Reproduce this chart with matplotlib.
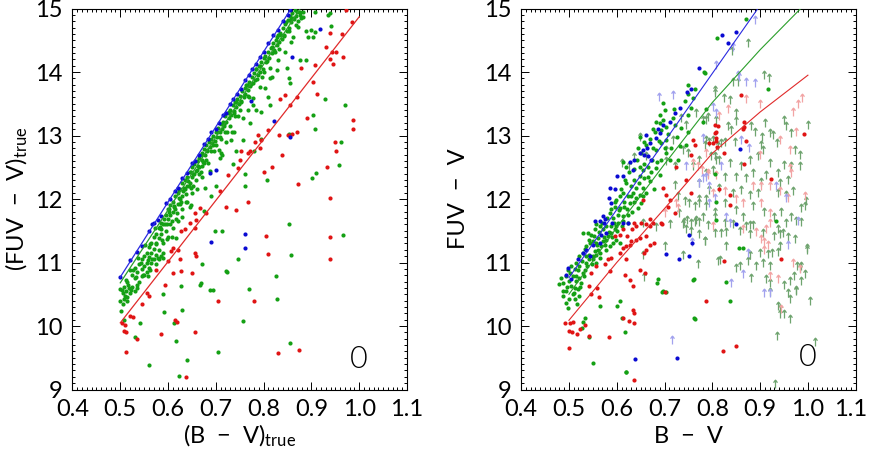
import numpy as np
import matplotlib
matplotlib.use("Agg")
import matplotlib.pyplot as plt
from matplotlib.path import Path
from matplotlib.ticker import MultipleLocator
from matplotlib.transforms import ScaledTranslation
from matplotlib import font_manager as fm

# ---------------- LEFT PANEL DATA ----------------
left_blue = [
    (0.500,10.77),(0.520,11.04),(0.535,11.16),(0.545,11.26),(0.560,11.49),(0.566,11.60),(0.570,11.63),
    (0.578,11.67),(0.585,11.73),(0.596,11.93),(0.605,12.00),(0.614,12.13),(0.620,12.17),(0.630,12.33),
    (0.640,12.41),(0.650,12.57),(0.656,12.60),(0.665,12.70),(0.676,12.86),(0.684,12.94),(0.690,13.05),
    (0.700,13.11),(0.706,13.19),(0.715,13.33),(0.721,13.36),(0.730,13.49),(0.736,13.57),(0.745,13.66),
    (0.752,13.74),(0.760,13.87),(0.770,13.95),(0.776,14.04),(0.785,14.13),(0.792,14.23),(0.800,14.31),
    (0.810,14.45),(0.820,14.58),(0.830,14.66),(0.840,14.80),(0.850,14.90),(0.856,14.97),
    (0.918,14.68),(0.860,14.24),(0.773,13.54),(0.822,13.23),(0.856,12.97),(0.690,11.32),(0.760,11.45),
    (0.760,11.23),(0.687,12.41),(0.701,12.46),
]
left_green = [
    (0.500,10.58),(0.500,10.40),(0.502,10.23),(0.505,10.52),(0.508,10.62),(0.510,10.48),(0.512,10.55),
    (0.515,10.45),(0.518,10.60),(0.520,10.52),(0.515,10.70),(0.525,10.80),(0.520,10.88),(0.530,10.92),
    (0.530,10.75),(0.535,10.85),(0.540,10.98),(0.540,10.70),(0.545,11.05),(0.545,10.90),(0.550,11.10),
    (0.550,10.95),(0.550,10.80),(0.555,11.15),(0.555,11.00),(0.560,11.25),(0.560,11.08),(0.560,10.92),
    (0.565,11.30),(0.565,11.15),(0.570,11.40),(0.570,11.22),(0.570,11.05),(0.575,11.45),(0.575,11.30),
    (0.575,11.12),(0.580,11.55),(0.580,11.38),(0.580,11.20),(0.585,11.62),(0.585,11.45),(0.585,11.10),
    (0.590,11.60),(0.590,11.30),(0.595,11.75),(0.595,11.50),(0.600,11.85),(0.600,11.68),(0.600,11.40),
    (0.605,11.90),(0.605,11.75),(0.610,11.95),(0.610,11.80),(0.610,11.55),(0.615,12.05),(0.615,11.85),
    (0.620,12.10),(0.620,11.92),(0.620,11.65),(0.625,12.15),(0.625,12.00),(0.630,12.25),(0.630,12.05),
    (0.630,11.85),(0.635,12.30),(0.635,12.15),(0.640,12.35),(0.640,12.20),(0.640,11.95),(0.645,12.42),
    (0.645,12.25),(0.650,12.50),(0.650,12.35),(0.650,12.10),(0.655,12.55),(0.655,12.40),(0.660,12.60),
    (0.660,12.45),(0.665,12.65),(0.665,12.50),(0.670,12.72),(0.670,12.52),(0.675,12.78),(0.675,12.57),
    (0.680,12.85),(0.680,12.62),(0.685,12.90),(0.690,12.95),(0.690,12.75),(0.695,13.00),(0.700,13.05),
    (0.700,12.85),(0.705,13.12),(0.710,13.18),(0.710,12.95),(0.715,13.22),(0.720,13.30),(0.720,13.05),
    (0.725,13.35),(0.730,13.40),(0.730,13.15),(0.735,13.48),(0.740,13.52),(0.740,13.30),(0.745,13.58),
    (0.750,13.62),(0.750,13.40),(0.755,13.70),(0.760,13.75),(0.765,13.80),(0.770,13.85),(0.770,13.60),
    (0.775,13.92),(0.780,13.98),(0.785,14.05),(0.790,14.10),(0.795,14.15),(0.800,14.22),(0.800,14.00),
    (0.810,14.32),(0.815,14.38),(0.820,14.45),(0.825,14.50),(0.830,14.58),(0.835,14.62),(0.840,14.70),
    (0.845,14.75),(0.850,14.82),(0.855,14.88),(0.860,14.93),(0.865,14.98),(0.870,14.95),(0.875,14.90),
    (0.585,11.52),(0.592,11.68),(0.598,11.60),(0.603,11.80),(0.608,11.66),(0.612,11.88),(0.618,11.78),
    (0.622,12.02),(0.628,11.95),(0.632,12.12),(0.638,12.08),(0.642,12.28),(0.648,12.18),(0.652,12.40),
    (0.658,12.30),(0.662,12.52),(0.668,12.42),(0.672,12.62),(0.678,12.70),(0.682,12.75),(0.688,12.82),
    (0.692,12.88),(0.698,12.92),(0.702,12.98),(0.708,13.05),(0.712,13.10),(0.718,13.15),(0.722,13.22),
    (0.728,13.28),(0.732,13.32),(0.738,13.38),(0.742,13.45),(0.748,13.50),(0.752,13.55),(0.758,13.60),
    (0.762,13.65),(0.768,13.72),(0.772,13.78),(0.778,13.82),(0.782,13.88),(0.788,13.95),(0.792,14.00),
    (0.798,14.05),(0.805,14.15),(0.812,14.22),(0.818,14.30),(0.822,14.35),(0.828,14.42),(0.832,14.48),
    (0.838,14.52),(0.842,14.58),(0.848,14.65),(0.852,14.70),(0.858,14.78),(0.862,14.85),(0.868,14.88),
    (0.872,14.80),(0.878,14.85),(0.882,14.95),(0.525,10.62),(0.535,10.65),(0.545,10.78),(0.555,10.85),
    (0.565,11.00),(0.575,10.98),(0.582,11.05),(0.590,11.15),(0.505,10.35),(0.508,10.10),(0.530,10.55),
    (0.562,10.88),
    (0.503,10.56),(0.507,10.43),(0.511,10.72),(0.514,10.39),(0.517,10.64),(0.523,10.57),(0.527,10.88),
    (0.532,10.77),(0.536,10.60),(0.538,11.07),(0.543,10.99),(0.547,10.81),(0.552,11.27),(0.557,11.04),
    (0.559,10.79),(0.563,11.29),(0.567,11.06),(0.572,11.54),(0.574,11.29),(0.578,11.07),(0.583,11.56),
    (0.587,11.36),(0.589,11.07),(0.593,11.60),(0.597,11.37),(0.602,11.85),(0.604,11.61),(0.609,11.40),
    (0.613,11.89),(0.617,11.68),(0.623,12.14),(0.626,11.92),(0.629,11.72),(0.633,12.18),(0.637,11.96),
    (0.643,12.20),(0.646,11.88),(0.649,12.43),(0.653,12.21),(0.658,12.44),(0.661,12.16),(0.664,12.40),
    (0.668,12.69),(0.671,12.35),(0.674,12.59),(0.677,12.17),(0.681,12.77),(0.684,12.57),(0.687,12.44),
    (0.693,12.85),(0.696,12.76),(0.703,13.06),(0.706,12.77),(0.709,12.98),(0.713,12.69),(0.717,13.18),
    (0.723,13.06),(0.727,13.37),(0.733,13.05),(0.737,13.36),(0.743,13.52),(0.747,13.30),(0.753,13.52),
    (0.757,13.27),(0.763,13.79),(0.767,13.62),(0.773,13.81),(0.777,13.59),(0.783,14.04),(0.787,13.89),
    (0.793,14.09),(0.797,13.92),(0.803,14.25),(0.807,14.17),(0.813,14.06),(0.817,14.40),(0.823,14.31),
    (0.827,14.55),(0.833,14.37),(0.837,14.58),(0.843,14.57),(0.847,14.78),(0.853,14.64),(0.857,14.83),
    (0.863,14.84),(0.867,14.74),(0.877,14.95),(0.883,14.86),
    (0.907,14.95),(0.935,14.90),(0.872,14.71),(0.888,14.64),(0.900,14.66),(0.907,14.63),(0.893,14.55),
    (0.904,14.55),(0.862,14.55),(0.858,14.47),(0.844,14.32),(0.830,14.19),(0.876,14.19),(0.888,14.19),
    (0.849,14.06),(0.828,14.03),(0.818,13.92),(0.813,13.91),(0.792,13.77),(0.802,13.75),(0.853,13.90),
    (0.856,13.82),(0.928,13.58),(0.970,13.48),(0.907,13.11),(0.904,13.32),(0.961,12.90),(0.809,13.61),
    (0.785,13.40),(0.795,13.37),(0.778,13.48),(0.767,13.40),(0.771,13.19),(0.813,13.48),(0.739,13.06),
    (0.757,12.93),(0.732,12.93),(0.722,12.90),(0.743,12.75),(0.708,12.64),(0.711,12.72),(0.939,14.93),
    (0.941,14.73),
    (0.747,11.05),(0.722,10.86),(0.698,11.49),(0.712,11.49),(0.672,10.97),(0.666,10.65),(0.628,10.63),
    (0.589,10.50),(0.687,10.57),(0.617,11.39),(0.649,11.91),(0.560,9.39),(0.622,9.22),(0.640,9.46),
    (0.616,9.77),(0.630,10.25),(0.612,10.05),(0.591,10.22),(0.542,10.05),(0.530,9.83),(0.705,9.59),
    (0.757,10.08),(0.770,10.58),(0.668,10.67),(0.693,10.56),(0.724,10.85),(0.855,9.74),(0.827,10.42),
    (0.826,10.78),(0.858,11.12),(0.854,11.60),(0.967,11.44),(0.958,12.53),(0.910,12.41),(0.902,12.33),
    (0.806,12.30),(0.852,13.03),(0.675,11.81),(0.700,12.20),(0.690,12.05),(0.760,12.40),(0.735,12.55),
    (0.780,12.75),(0.795,12.95),(0.760,12.20),
]
left_red = [
    (0.973,14.97),(0.984,14.79),(0.963,14.60),(0.939,14.62),(0.930,14.40),(0.943,14.32),(0.952,14.32),
    (0.966,14.24),(0.939,14.21),(0.907,14.11),(0.945,14.13),(0.879,14.06),(0.904,13.85),(0.911,13.66),
    (0.844,13.64),(0.834,13.58),(0.869,13.61),(0.856,13.48),(0.890,13.27),(0.987,13.24),(0.987,13.11),
    (0.950,12.90),(0.952,12.75),(0.869,13.06),(0.860,13.03),(0.851,13.01),(0.832,13.01),(0.795,12.93),
    (0.788,13.01),(0.781,12.90),(0.809,13.09),(0.792,12.80),(0.753,12.75),(0.767,12.72),(0.750,12.61),
    (0.771,12.75),(0.747,12.49),(0.726,12.38),(0.708,12.12),(0.722,11.88),(0.743,11.83),(0.680,11.78),
    (0.656,11.78),(0.659,11.67),(0.645,11.62),(0.635,11.52),(0.628,11.49),(0.610,11.23),(0.607,11.18),
    (0.621,11.20),(0.624,11.05),(0.656,11.15),(0.659,11.10),(0.600,11.02),(0.575,10.89),(0.610,10.84),
    (0.628,10.86),(0.593,10.64),(0.561,10.47),(0.504,10.05),(0.509,10.02),(0.507,9.92),(0.513,9.90),
    (0.511,9.59),(0.521,10.16),(0.526,10.14),(0.534,9.79),(0.546,10.34),(0.555,10.52),(0.586,9.87),
    (0.614,10.09),(0.619,10.06),(0.656,9.90),(0.705,10.39),(0.779,10.40),(0.829,9.57),(0.874,9.62),
    (0.638,9.20),(0.651,10.83),(0.805,11.42),(0.810,11.14),(0.871,12.23),(0.939,12.01),(0.938,11.05),
    (0.939,11.40),(0.932,12.51),(0.768,11.95),(0.666,11.86),(0.656,11.54),(0.817,12.51),(0.838,12.70),
    (0.800,12.42),
]
left_line_blue_x = [0.500, 0.860]
left_line_blue_y = [10.77, 15.03]
left_line_green_x = [0.500, 0.880]
left_line_green_y = [10.68, 15.04]
left_line_red_x = [0.500, 1.000]
left_line_red_y = [10.05, 14.87]

# ---------------- RIGHT PANEL DATA ----------------
right_blue = [
    (0.493,10.81),(0.498,10.92),(0.505,10.74),(0.529,11.15),(0.536,11.20),(0.550,11.28),(0.564,11.31),
    (0.568,11.44),(0.578,11.47),(0.554,11.65),(0.574,11.62),(0.591,11.62),(0.613,11.62),(0.623,11.62),
    (0.704,11.13),(0.730,11.06),(0.752,11.11),(0.751,11.44),(0.758,11.31),(0.639,9.48),(0.726,9.50),
    (0.772,14.06),(0.756,13.74),(0.747,13.69),(0.732,13.43),(0.721,13.35),(0.711,13.22),(0.697,13.17),
    (0.686,13.11),(0.690,13.04),(0.683,12.96),(0.670,12.88),(0.662,13.01),(0.663,12.80),(0.655,12.77),
    (0.658,12.70),(0.665,12.67),(0.672,12.62),(0.648,12.72),(0.637,12.62),(0.627,12.59),(0.634,12.46),
    (0.613,12.36),(0.600,12.37),(0.585,12.17),(0.596,12.15),(0.584,12.02),(0.589,11.94),(0.571,11.73),
    (0.575,11.68),(0.564,11.65),(0.821,14.59),(0.833,14.46),(0.849,14.63),(0.857,12.78),(0.849,11.60),
    (0.520,11.05),(0.545,11.10),
]
right_green = [
    (0.480,10.66),(0.487,10.55),(0.493,10.55),(0.494,10.37),(0.501,10.42),(0.508,10.50),(0.512,10.60),
    (0.514,10.71),(0.515,10.79),(0.522,10.76),(0.526,10.68),(0.529,10.84),(0.533,10.89),(0.508,10.79),
    (0.501,10.71),(0.519,10.89),(0.536,11.00),(0.543,11.05),(0.550,11.10),(0.554,11.18),(0.561,11.20),
    (0.568,11.26),(0.571,11.34),(0.578,11.36),(0.582,11.41),(0.589,11.47),(0.596,11.52),(0.599,11.57),
    (0.603,11.62),(0.613,11.65),(0.529,11.47),(0.540,11.47),(0.547,11.44),(0.554,11.52),(0.564,11.57),
    (0.571,11.52),(0.536,11.26),(0.543,11.36),(0.550,11.34),(0.557,11.31),(0.561,11.39),(0.578,11.20),
    (0.585,11.26),(0.592,11.31),(0.599,11.36),(0.606,11.31),(0.522,11.10),(0.529,11.15),(0.536,11.10),
    (0.550,11.05),(0.557,11.00),(0.564,11.07),(0.515,11.00),(0.505,10.94),(0.498,10.89),(0.494,10.79),
    (0.487,10.68),(0.484,10.76),(0.505,10.63),(0.512,10.42),(0.517,10.34),(0.522,10.47),(0.498,10.29),
    (0.529,10.06),(0.533,10.13),(0.528,9.97),(0.542,9.83),(0.550,9.41),(0.564,10.31),(0.606,10.39),
    (0.600,10.31),(0.617,9.90),(0.697,10.55),(0.704,10.53),(0.686,10.74),(0.684,10.67),(0.759,10.73),
    (0.761,10.12),(0.619,9.27),(0.612,10.12),
    (0.749,13.79),(0.763,13.74),(0.749,13.66),(0.759,13.59),(0.697,13.51),(0.702,13.40),(0.690,13.32),
    (0.683,13.22),(0.690,13.19),(0.676,13.11),(0.693,13.09),(0.704,13.14),(0.721,13.17),(0.718,13.27),
    (0.749,13.32),(0.756,13.43),(0.648,12.98),(0.644,12.80),(0.658,12.90),(0.676,12.80),(0.683,12.77),
    (0.693,12.88),(0.704,12.93),(0.704,12.72),(0.711,12.62),(0.728,12.62),(0.732,12.83),(0.745,12.85),
    (0.613,12.59),(0.620,12.51),(0.648,12.51),(0.655,12.46),(0.665,12.51),(0.672,12.43),(0.683,12.49),
    (0.690,12.38),(0.648,12.36),(0.658,12.33),(0.669,12.28),(0.637,12.30),(0.620,12.25),(0.630,12.20),
    (0.641,12.17),(0.655,12.17),(0.662,12.09),(0.648,12.07),(0.634,12.09),(0.623,12.04),(0.613,12.09),
    (0.606,12.04),(0.599,11.99),(0.596,11.88),(0.606,11.86),(0.616,11.88),(0.627,11.94),(0.637,11.96),
    (0.644,11.86),(0.651,11.94),(0.603,11.75),(0.613,11.73),(0.623,11.75),(0.585,11.78),(0.592,11.70),
    (0.623,11.62),(0.578,11.57),(0.589,11.57),(0.557,11.60),
    (0.784,13.99),(0.916,13.73),(0.786,13.41),(0.780,13.22),(0.805,12.40),(0.808,11.95),(0.808,11.67),
    (0.934,11.65),(0.856,11.23),(0.829,10.69),(0.838,10.39),(0.810,14.54),(0.870,14.84),(0.782,14.00),
    (0.864,11.23),(0.762,10.74),(0.763,10.11),(0.695,10.54),(0.620,9.28),
    (0.488,10.48),(0.495,10.62),(0.503,10.83),(0.510,10.52),(0.513,10.90),(0.518,10.58),(0.521,10.95),
    (0.524,10.62),(0.527,11.02),(0.531,10.78),(0.534,11.22),(0.538,10.95),(0.541,11.12),(0.545,11.30),
    (0.548,10.98),(0.552,11.42),(0.556,11.12),(0.559,11.27),(0.562,11.48),(0.566,11.15),(0.569,11.62),
    (0.573,11.40),(0.576,11.28),(0.580,11.70),(0.583,11.48),(0.587,11.85),(0.590,11.40),(0.594,11.62),
    (0.597,11.95),(0.601,11.50),(0.604,11.82),(0.608,12.15),(0.611,11.58),(0.615,11.95),(0.618,12.30),
    (0.622,11.85),(0.625,12.42),(0.629,12.05),(0.632,11.80),(0.636,12.48),(0.640,12.02),(0.643,12.62),
    (0.647,12.25),(0.651,12.72),(0.654,12.05),(0.658,12.55),(0.662,12.85),(0.666,12.35),(0.669,12.95),
    (0.673,12.62),(0.677,12.15),(0.681,13.05),(0.685,12.58),(0.688,12.92),(0.692,12.62),(0.696,13.25),
    (0.700,12.80),(0.707,13.02),(0.714,12.80),(0.720,13.42),(0.727,12.98),(0.734,13.12),(0.742,13.55),
    (0.750,13.05),
]
right_red = [
    (0.491,10.05),(0.503,10.05),(0.508,10.06),(0.501,9.92),(0.507,9.91),(0.517,9.87),(0.524,9.96),
    (0.533,10.01),(0.500,9.65),(0.542,9.84),(0.584,9.83),(0.543,10.63),(0.547,10.50),(0.563,10.46),
    (0.559,10.60),(0.547,10.84),(0.557,10.94),(0.575,10.97),(0.585,10.86),(0.582,11.05),(0.589,11.07),
    (0.606,11.15),(0.620,11.05),(0.613,11.23),(0.619,11.26),(0.627,11.28),(0.630,11.34),(0.641,11.36),
    (0.648,11.39),(0.662,11.41),(0.658,11.15),(0.662,11.20),(0.669,11.28),(0.679,11.30),(0.606,11.44),
    (0.596,11.41),(0.613,11.52),(0.621,11.42),(0.632,11.52),(0.641,11.58),(0.669,11.57),(0.676,11.62),
    (0.695,11.60),(0.648,10.89),(0.660,10.83),(0.617,10.80),(0.628,10.72),(0.635,10.63),(0.634,10.26),
    (0.637,10.21),(0.613,10.13),(0.625,10.08),(0.637,10.05),(0.637,9.15),(0.787,10.39),(0.702,10.53),
    (0.805,13.17),(0.808,12.96),(0.801,12.88),(0.759,12.93),(0.763,12.85),(0.756,12.70),(0.725,12.51),
    (0.745,12.30),(0.756,12.09),(0.704,12.07),(0.711,11.99),(0.707,11.88),(0.697,12.17),(0.721,11.78),
    (0.693,11.62),(0.655,11.99),(0.669,11.68),(0.662,11.60),(0.651,11.62),(0.637,11.62),(0.808,13.06),
    (0.861,13.64),(0.866,13.22),(0.867,13.14),(0.864,13.10),(0.812,13.15),(0.805,13.04),(0.808,12.91),
    (0.794,12.88),(0.810,12.82),(0.824,12.73),(0.871,12.92),(0.991,13.02),(0.867,12.55),(0.923,12.31),
    (0.815,12.16),(0.838,12.07),(0.836,11.91),(0.824,11.02),(0.944,11.06),(0.822,9.61),(0.850,9.68),
]
right_green_limits = [
    (0.683,11.49),(0.711,11.54),(0.740,11.57),(0.763,11.57),(0.772,11.57),(0.745,11.47),(0.756,11.44),
    (0.773,11.39),(0.785,11.28),(0.656,11.05),(0.658,10.71),(0.738,11.06),(0.770,10.92),(0.700,11.20),
    (0.655,11.56),(0.784,11.27),(0.791,11.52),(0.805,11.40),(0.819,11.40),(0.829,11.42),(0.829,11.19),
    (0.812,10.96),(0.817,10.98),(0.849,10.85),(0.858,10.88),(0.874,10.96),(0.881,10.70),(0.878,11.05),
    (0.892,10.88),(0.906,10.93),(0.899,11.09),(0.916,11.07),(0.920,10.88),(0.925,11.09),(0.937,11.11),
    (0.941,11.19),(0.948,11.40),(0.941,11.38),(0.958,11.34),(0.972,11.31),(0.977,10.88),(0.983,10.85),
    (0.993,10.75),(0.986,10.64),(0.999,11.14),(0.962,10.64),(0.951,10.59),(0.958,10.46),(0.976,10.49),
    (0.937,10.25),(0.941,10.12),(0.962,10.04),(1.005,10.33),(0.935,9.78),(1.014,9.68),(0.932,9.02),
    (0.920,10.62),(0.913,10.67),(0.871,11.51),(0.885,11.53),(0.857,11.43),(0.878,11.38),(0.906,11.40),
    (0.930,11.35),(0.937,11.46),(0.955,11.56),(0.976,11.59),(0.986,11.57),(0.843,11.54),
    (0.805,13.65),(0.824,13.52),(0.836,13.50),(0.843,13.78),(0.909,13.89),(0.918,13.84),(0.850,13.29),
    (0.849,13.16),(0.787,13.18),(0.794,12.84),(0.784,12.79),(0.812,12.77),(0.819,12.82),(0.826,12.84),
    (0.833,13.08),(0.840,13.03),(0.847,12.84),(0.881,13.08),(0.889,13.00),(0.904,12.92),(0.902,12.79),
    (0.906,12.71),(0.911,13.13),(0.920,12.97),(0.927,12.95),(0.935,12.82),(0.951,13.18),(0.955,13.08),
    (0.965,12.97),(0.983,12.63),(0.972,12.71),(1.000,13.10),(0.805,12.61),(0.815,12.55),(0.836,12.50),
    (0.861,12.45),(0.878,12.55),(0.895,12.61),(0.920,12.50),(0.937,12.34),(0.951,12.48),(0.965,12.45),
    (0.983,12.45),(0.787,12.34),(0.801,12.40),(0.826,12.29),(0.850,12.29),(0.871,12.27),(0.885,12.34),
    (0.902,12.21),(0.913,12.32),(0.941,12.19),(0.958,12.24),(0.773,12.19),(0.794,12.08),(0.815,12.11),
    (0.843,12.03),(0.861,12.08),(0.878,12.00),(0.895,12.03),(0.937,12.03),(0.955,12.00),(0.969,12.06),
    (0.773,11.93),(0.787,11.82),(0.805,11.74),(0.826,11.87),(0.850,11.77),(0.864,11.66),(0.885,11.82),
    (0.909,11.74),(0.930,11.66),(0.944,11.74),(0.965,11.66),(0.986,11.79),(0.993,11.82),(0.826,11.56),
    (0.878,11.53),
    (0.805,13.61),(0.808,13.18),(0.791,13.23),(0.780,13.18),(0.766,13.29),(0.745,13.10),(0.735,13.21),
    (0.718,12.87),(0.704,12.71),(0.662,12.61),(0.648,12.92),(0.704,12.53),(0.721,12.45),(0.738,12.71),
    (0.749,12.66),(0.759,12.45),(0.773,12.55),(0.787,12.87),(0.801,12.87),(0.798,12.61),(0.808,12.55),
    (0.721,12.16),(0.728,11.98),(0.742,11.90),(0.752,11.87),(0.763,11.82),(0.773,11.87),(0.787,11.93),
    (0.731,11.72),(0.746,11.61),(0.756,11.56),(0.766,11.61),(0.780,11.66),(0.805,11.66),(0.739,11.54),
    (0.875,14.40),(0.841,14.26),(0.854,13.78),(0.997,11.90),(0.999,11.17),(0.951,10.12),(0.962,10.36),
    (0.941,10.20),(0.986,10.88),(0.920,10.47),(0.976,10.51),(0.970,10.72),(0.612,12.50),(0.625,12.45),
    (0.636,12.60),
]
right_red_limits = [
    (0.801,11.51),(0.864,11.46),(0.892,11.41),(0.902,11.30),(0.909,11.26),(0.916,11.22),(0.909,11.13),
    (0.920,11.56),(0.913,11.47),(0.937,10.67),(0.920,10.72),(0.969,10.93),(0.983,10.83),(0.943,10.20),
    (0.871,13.51),(0.979,13.44),(0.988,13.52),(0.969,13.31),(0.899,13.44),(0.941,12.87),(0.962,12.71),
    (0.976,13.00),(0.899,12.63),(0.962,12.42),(0.791,12.34),(0.885,12.14),(0.902,12.14),(0.920,12.14),
    (0.965,12.34),(0.826,12.06),(0.850,11.93),(0.864,11.87),(0.902,11.87),(0.920,11.72),(0.941,12.06),
    (0.958,11.95),(0.993,11.98),(0.787,12.66),(0.759,12.50),(0.770,12.45),(0.779,12.40),(0.790,12.32),
    (0.808,12.32),(0.725,11.87),(0.728,11.79),(0.700,11.72),(0.801,12.03),(0.815,13.25),(0.832,13.35),
]
right_blue_limits = [
    (0.836,11.56),(0.864,10.75),(0.840,10.62),(0.909,10.46),(0.920,10.46),(0.874,11.09),(0.958,11.22),
    (0.808,14.05),(0.854,13.89),(0.871,13.78),(0.889,13.76),(0.808,13.29),(0.780,12.89),(0.861,12.87),
    (0.877,12.74),(0.819,12.45),(0.780,12.27),(0.934,12.14),(0.955,11.95),(0.829,11.66),(0.979,11.59),
    (0.688,13.55),(0.718,13.57),(0.745,12.45),(0.773,12.19),(0.794,12.14),(0.787,12.29),(0.805,11.95),
    (0.794,11.87),(0.801,13.39),(0.856,14.95),(0.890,14.75),(0.843,14.33),(0.855,13.86),(0.716,9.71),
    (0.758,11.26),
]
right_line_blue_x = [0.500, 0.900]
right_line_blue_y = [10.76, 15.05]
right_line_green_x = [0.500, 0.600, 0.700, 0.800, 0.900, 0.985]
right_line_green_y = [10.50, 11.55, 12.55, 13.52, 14.35, 15.00]
right_line_red_x = [0.500, 0.600, 0.700, 0.800, 0.900, 1.000]
right_line_red_y = [10.09, 11.00, 11.85, 12.72, 13.37, 13.95]

x_tick_labels = ["0.4", "0.5", "0.6", "0.7", "0.8", "0.9", "1.0", "1.1"]
panel_label = "0"

# ---------------- STYLE ----------------
C_BLUE = "#0a0ad2"
C_GREEN = "#14a014"
C_RED = "#e01414"
L_BLUE = "#2a2ae0"
L_GREEN = "#2a9e2a"
L_RED = "#e02a2a"
A_GREEN = "#6fa46f"
A_RED = "#f2a4a4"
A_BLUE = "#a2a2ee"

have_lato = any(f.name == 'Lato' for f in fm.fontManager.ttflist)
FAMILY = ['Lato', 'DejaVu Sans'] if have_lato else ['DejaVu Sans']
plt.rcParams['font.family'] = FAMILY
plt.rcParams['font.weight'] = 'normal'
plt.rcParams['mathtext.fontset'] = 'custom'
plt.rcParams['mathtext.rm'] = FAMILY[0]
plt.rcParams['mathtext.it'] = FAMILY[0]
FS = 17

arrow_marker = Path([(0, 0), (0, 1), (-0.24, 0.70), (0, 1), (0.24, 0.70)],
                    [Path.MOVETO, Path.LINETO, Path.MOVETO, Path.LINETO, Path.LINETO])

fig = plt.figure(figsize=(8.69, 4.50), dpi=100)
axL = fig.add_axes([0.0834, 0.1344, 0.3850, 0.8467])
axR = fig.add_axes([0.5997, 0.1344, 0.3850, 0.8467])


def style_axes(ax):
    ax.set_xlim(0.4, 1.1)
    ax.set_ylim(9, 15)
    ax.xaxis.set_minor_locator(MultipleLocator(0.01))
    ax.yaxis.set_major_locator(MultipleLocator(1))
    ax.yaxis.set_minor_locator(MultipleLocator(0.1))
    ax.set_xticks(np.round(np.arange(0.4, 1.101, 0.1), 1))
    ax.set_xticklabels(x_tick_labels)
    ax.tick_params(which='both', direction='in', top=True, right=True, width=0.7, color='black')
    ax.tick_params(which='major', length=5.5, labelsize=FS, pad=7)
    ax.tick_params(which='minor', length=2.5)
    for s in ax.spines.values():
        s.set_linewidth(0.8)


def dots(ax, pts, color):
    a = np.array(pts)
    ax.scatter(a[:, 0], a[:, 1], s=9, c=color, linewidths=0, zorder=3)


def limits(ax, pts, color):
    a = np.array(pts)
    ax.plot(a[:, 0], a[:, 1], ls='none', marker=arrow_marker, ms=12,
            mfc='none', mec=color, mew=0.9, zorder=2)


# left panel
dots(axL, left_green, C_GREEN)
dots(axL, left_red, C_RED)
dots(axL, left_blue, C_BLUE)
axL.plot(left_line_blue_x, left_line_blue_y, color=L_BLUE, lw=0.9, zorder=4)
axL.plot(left_line_green_x, left_line_green_y, color=L_GREEN, lw=0.9, zorder=4)
axL.plot(left_line_red_x, left_line_red_y, color=L_RED, lw=0.9, zorder=4)
style_axes(axL)
axL.set_xlabel("(B  \u2212  V)$_{\\mathrm{true}}$", fontsize=FS, labelpad=2)
axL.set_ylabel("(FUV  \u2212  V)$_{\\mathrm{true}}$", fontsize=FS, labelpad=4)
axL.text(1.0, 9.47, panel_label, fontsize=FS + 5, fontweight=300, ha='center', va='center')

# right panel
limits(axR, right_green_limits, A_GREEN)
limits(axR, right_red_limits, A_RED)
limits(axR, right_blue_limits, A_BLUE)
dots(axR, right_green, C_GREEN)
dots(axR, right_red, C_RED)
dots(axR, right_blue, C_BLUE)
axR.plot(right_line_blue_x, right_line_blue_y, color=L_BLUE, lw=0.8, zorder=4)
axR.plot(right_line_green_x, right_line_green_y, color=L_GREEN, lw=0.8, zorder=4)
axR.plot(right_line_red_x, right_line_red_y, color=L_RED, lw=0.8, zorder=4)
style_axes(axR)
axR.set_xlabel("B  \u2212  V", fontsize=FS, labelpad=4)
axR.set_ylabel("FUV  \u2212  V", fontsize=FS, labelpad=11)
axR.text(1.0, 9.50, panel_label, fontsize=FS + 5, fontweight=300, ha='center', va='center')

# keep the last tick label of the right panel inside the canvas
last = axR.get_xticklabels()[-1]
last.set_transform(last.get_transform() + ScaledTranslation(-4 / 72, 0, fig.dpi_scale_trans))

fig.savefig("out.png", dpi=100)
